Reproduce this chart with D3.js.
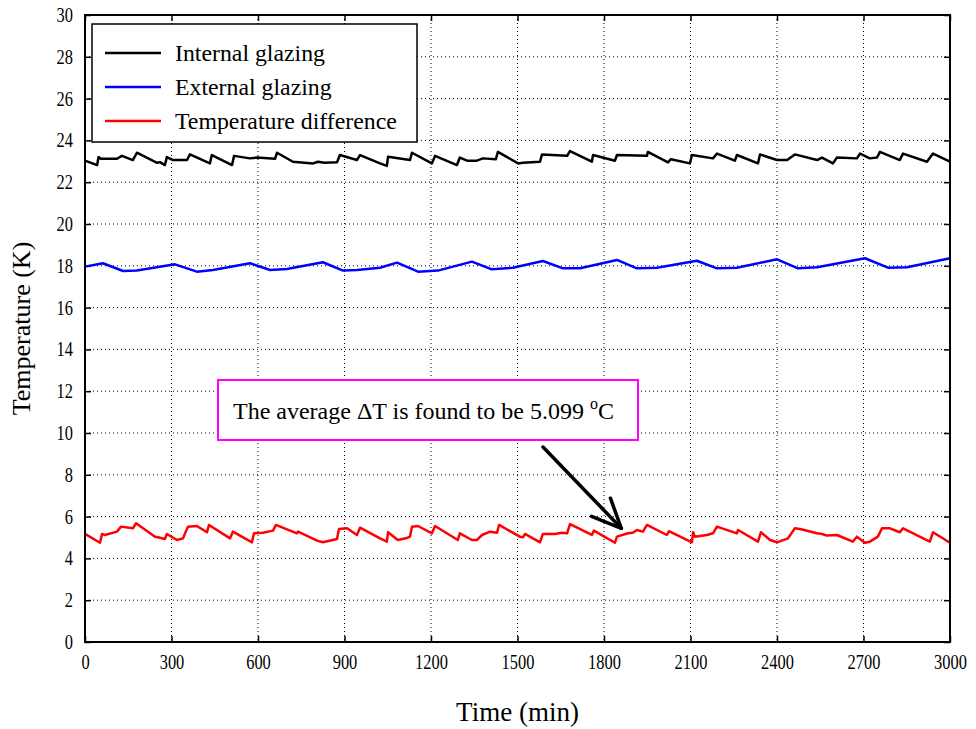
<!DOCTYPE html>
<html><head><meta charset="utf-8">
<script src="https://cdn.jsdelivr.net/npm/d3@7"></script>
<style>body{margin:0;background:#fff}svg{display:block}text{font-family:"Liberation Serif","Times New Roman",serif;fill:#000}</style>
</head><body><svg id="c" width="976" height="729" font-family="Liberation Serif, Times New Roman, serif"></svg>
<script>
// ---- data ----
const internalT = [0,42,47,55,111,128,166,180,250,260,277,284,305,354,364,433,440,510,517,572,596,659,666,721,791,808,830,874,884,943,954,1023,1047,1051,1127,1134,1203,1214,1290,1300,1325,1359,1380,1425,1432,1502,1519,1578,1585,1672,1682,1758,1762,1838,1845,1949,1952,2022,2032,2098,2105,2178,2192,2254,2261,2334,2341,2400,2435,2462,2539,2556,2594,2608,2677,2688,2722,2747,2757,2826,2837,2920,2941,3000];
const internalV = [23.03,22.82,23.20,23.12,23.12,23.26,23.06,23.41,22.93,22.96,22.82,23.20,23.06,23.06,23.33,22.90,23.30,22.82,23.26,23.14,23.18,23.12,23.41,22.98,22.90,22.98,22.93,22.95,23.30,23.06,23.30,22.90,22.78,23.22,23.06,23.41,22.90,23.26,22.82,23.18,23.03,23.03,23.14,23.10,23.45,22.90,22.93,22.98,23.33,23.26,23.49,22.98,23.30,23.03,23.30,23.26,23.45,22.95,23.10,22.90,23.30,23.14,23.37,23.03,23.30,22.90,23.33,23.06,23.06,23.33,23.06,23.18,22.90,23.18,23.14,23.37,23.14,23.18,23.45,23.06,23.37,22.98,23.37,22.98];

const externalT = [0,62,132,180,312,388,444,572,642,700,825,895,943,1023,1082,1155,1224,1342,1411,1484,1588,1658,1717,1845,1914,1984,2122,2192,2261,2400,2473,2539,2705,2785,2851,3000];
const externalV = [17.96,18.12,17.75,17.77,18.07,17.72,17.80,18.12,17.80,17.85,18.17,17.77,17.80,17.91,18.15,17.72,17.77,18.20,17.83,17.91,18.23,17.88,17.88,18.28,17.88,17.91,18.24,17.88,17.91,18.31,17.88,17.93,18.36,17.91,17.93,18.36];

const diffT = [0,52,59,69,111,125,166,177,243,253,277,284,319,340,357,388,423,430,503,513,579,586,617,652,662,735,739,805,825,874,881,909,943,954,1023,1047,1051,1085,1113,1127,1134,1155,1203,1214,1293,1300,1342,1359,1377,1405,1429,1436,1508,1519,1526,1578,1588,1630,1654,1672,1682,1758,1765,1838,1845,1883,1900,1914,1935,1949,2018,2025,2105,2109,2115,2157,2178,2192,2261,2265,2334,2344,2376,2400,2438,2462,2480,2539,2556,2573,2608,2663,2677,2705,2722,2750,2764,2792,2826,2837,2930,2941,3000];
const diffV = [5.17,4.75,5.17,5.12,5.28,5.52,5.44,5.68,5.04,5.01,4.93,5.17,4.88,4.96,5.52,5.55,5.25,5.60,4.96,5.28,4.77,5.20,5.23,5.33,5.60,5.20,5.28,4.85,4.77,4.93,5.41,5.44,5.12,5.47,4.96,4.80,5.25,4.88,4.96,5.04,5.52,5.55,5.20,5.55,4.88,5.20,4.88,4.88,5.12,5.28,5.23,5.60,5.04,5.01,5.17,4.77,5.17,5.17,5.23,5.20,5.64,5.12,5.33,4.75,5.04,5.20,5.23,5.36,5.28,5.60,5.12,5.30,4.77,5.25,5.04,5.12,5.20,5.52,5.20,5.36,4.80,5.25,4.88,4.77,4.96,5.44,5.41,5.20,5.17,5.09,5.12,4.80,5.04,4.75,4.80,5.04,5.44,5.44,5.25,5.44,4.80,5.25,4.75];

const xTicks = [0,300,600,900,1200,1500,1800,2100,2400,2700,3000];
const yTicks = [0,2,4,6,8,10,12,14,16,18,20,22,24,26,28,30];
const seriesNames = ["Internal glazing","External glazing","Temperature difference"];
const seriesColors = ["#000000","#0000ff","#ff0000"];
const xLabel = "Time (min)";
const yLabel = "Temperature (K)";
const noteText = "The average \u0394T is found to be 5.099 ";
const noteAt = [1860, 5.25];

// ---- layout ----
const FONT = "Liberation Serif, Times New Roman, serif";
const L = 85, R = 950, T = 15, B = 642;
const svg = d3.select("#c");
const x = d3.scaleLinear().domain([0,3000]).range([L,R]);
const y = d3.scaleLinear().domain([0,30]).range([B,T]);

// grid
const g = svg.append("g");
g.selectAll(".gx").data(xTicks.slice(1,-1)).join("line")
  .attr("x1",d=>x(d)).attr("x2",d=>x(d)).attr("y1",T).attr("y2",B)
  .attr("stroke","#000").attr("stroke-width",1).attr("stroke-dasharray","1,3");
g.selectAll(".gy").data(yTicks.slice(1,-1)).join("line")
  .attr("y1",d=>y(d)).attr("y2",d=>y(d)).attr("x1",L).attr("x2",R)
  .attr("stroke","#000").attr("stroke-width",1).attr("stroke-dasharray","1,3");

// axes with inner ticks
const axB = d3.axisBottom(x).tickValues(xTicks).tickSize(-6).tickPadding(13).tickFormat(d3.format("d"));
const axT = d3.axisTop(x).tickValues(xTicks).tickSize(-6).tickFormat("");
const axL = d3.axisLeft(y).tickValues(yTicks).tickSize(-6).tickPadding(12).tickFormat(d3.format("d"));
const axR = d3.axisRight(y).tickValues(yTicks).tickSize(-6).tickFormat("");
function style(sel){
  sel.attr("font-family",FONT).attr("font-size",20);
  sel.select(".domain").remove();
  sel.selectAll(".tick line").attr("stroke","#000").attr("stroke-width",1.5);
  sel.selectAll("text").attr("font-family",FONT).attr("font-size",20).attr("fill","#000")
    .attr("lengthAdjust","spacingAndGlyphs")
    .attr("textLength",function(){ const t=this.textContent; return t ? t.length*8.2 : null; });
}
svg.append("g").attr("transform",`translate(0,${B})`).call(axB).call(style);
svg.append("g").attr("transform",`translate(0,${T})`).call(axT).call(style);
svg.append("g").attr("transform",`translate(${L},0)`).call(axL).call(style);
svg.append("g").attr("transform",`translate(${R},0)`).call(axR).call(style);

// lines
const line = d3.line().x(d=>x(d[0])).y(d=>y(d[1]));
const data = [d3.zip(internalT,internalV), d3.zip(externalT,externalV), d3.zip(diffT,diffV)];
data.forEach((s,i)=>{
  svg.append("path").datum(s).attr("d",line).attr("fill","none")
    .attr("stroke",seriesColors[i]).attr("stroke-width",2.5).attr("stroke-linejoin","round");
});

// frame
svg.append("rect").attr("x",L).attr("y",T).attr("width",R-L).attr("height",B-T)
  .attr("fill","none").attr("stroke","#000").attr("stroke-width",2);

// legend
const lg = svg.append("g");
lg.append("rect").attr("x",92).attr("y",24).attr("width",325).attr("height",118)
  .attr("fill","#fff").attr("stroke","#000").attr("stroke-width",1.5);
seriesNames.forEach((n,i)=>{
  const yy = 53 + i*34;
  lg.append("line").attr("x1",105).attr("x2",161).attr("y1",yy).attr("y2",yy)
    .attr("stroke",seriesColors[i]).attr("stroke-width",2.5);
  lg.append("text").attr("x",175).attr("y",yy+8).attr("font-family",FONT).attr("font-size",23.8).text(n);
});

// annotation
svg.append("rect").attr("x",218).attr("y",380).attr("width",420).attr("height",60)
  .attr("fill","#fff").attr("stroke","#ff00ff").attr("stroke-width",2);
const nt = svg.append("text").attr("x",233).attr("y",419).attr("font-family",FONT).attr("font-size",24);
nt.append("tspan").text(noteText);
nt.append("tspan").attr("dy",-10).attr("font-size",16).text("o");
nt.append("tspan").attr("dy",10).attr("font-size",24).text("C");

// arrow
const tip = [x(noteAt[0]), y(noteAt[1])-4];
const start = [543,447];
const ag = svg.append("g").attr("stroke","#000").attr("stroke-width",3.5).attr("stroke-linecap","round");
ag.append("line").attr("x1",start[0]).attr("y1",start[1]).attr("x2",tip[0]).attr("y2",tip[1]);
const ang = Math.atan2(tip[1]-start[1], tip[0]-start[0]);
[0.42,-0.42].forEach(a=>{
  ag.append("line").attr("x1",tip[0]).attr("y1",tip[1])
    .attr("x2",tip[0]-32*Math.cos(ang+a)).attr("y2",tip[1]-32*Math.sin(ang+a));
});

// axis titles
svg.append("text").attr("x",(L+R)/2).attr("y",721).attr("text-anchor","middle").attr("font-family",FONT).attr("font-size",27).text(xLabel);
svg.append("text").attr("transform",`translate(30,${(T+B)/2}) rotate(-90)`).attr("text-anchor","middle").attr("font-family",FONT).attr("font-size",26).text(yLabel);
</script></body></html>
